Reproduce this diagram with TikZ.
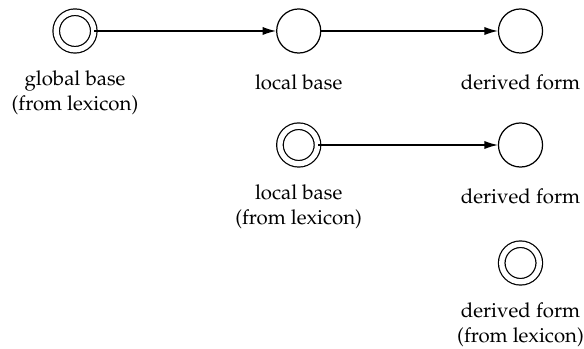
\documentclass[tikz,border=0pt]{standalone}
\usepackage[T1]{fontenc}
\usepackage{mathpazo}
\usepackage{tikz}
\usetikzlibrary{arrows.meta, positioning}

\begin{document}
\begin{tikzpicture}[x=0.49pt, y=-0.49pt,
    form/.style={circle, draw, line width=0.6pt, minimum size=21.6pt, inner sep=0pt},
    lexform/.style={form, minimum size=18.4pt, double, double distance=2.6pt},
    caption/.style={align=center, inner sep=0pt, below=10pt of #1},
    link/.style={-{Latex[length=6.6pt, width=4pt]}, line width=0.6pt}]
    \useasboundingbox (0,0) rectangle (584,349);

    % --- top row: global base ---
    \node[lexform] (gb) at (75, 31) {};
    \node[form] (lb) at (298.7, 31) {};
    \node[form] (df) at (520.5, 31) {};
    \node[caption=gb] (gbtext) {global base\\(from lexicon)};
    \node[caption=lb] (lbtext) {local base};
    \node[caption=df] (dftext) {derived form};
    \draw[link] (gb) -- (lb);
    \draw[link] (lb) -- (df);

    % --- middle row: local base ---
    \node[lexform] (lb2) at (298.7, 145) {};
    \node[form] (df2) at (520.5, 145) {};
    \node[caption=lb2] (lb2text) {local base\\(from lexicon)};
    \node[caption=df2] (df2text) {derived form};
    \draw[link] (lb2) -- (df2);

    % --- bottom row: derived form ---
    \node[lexform] (df3) at (520.5, 263) {};
    \node[caption=df3] (df3text) {derived form\\(from lexicon)};
\end{tikzpicture}
\end{document}
